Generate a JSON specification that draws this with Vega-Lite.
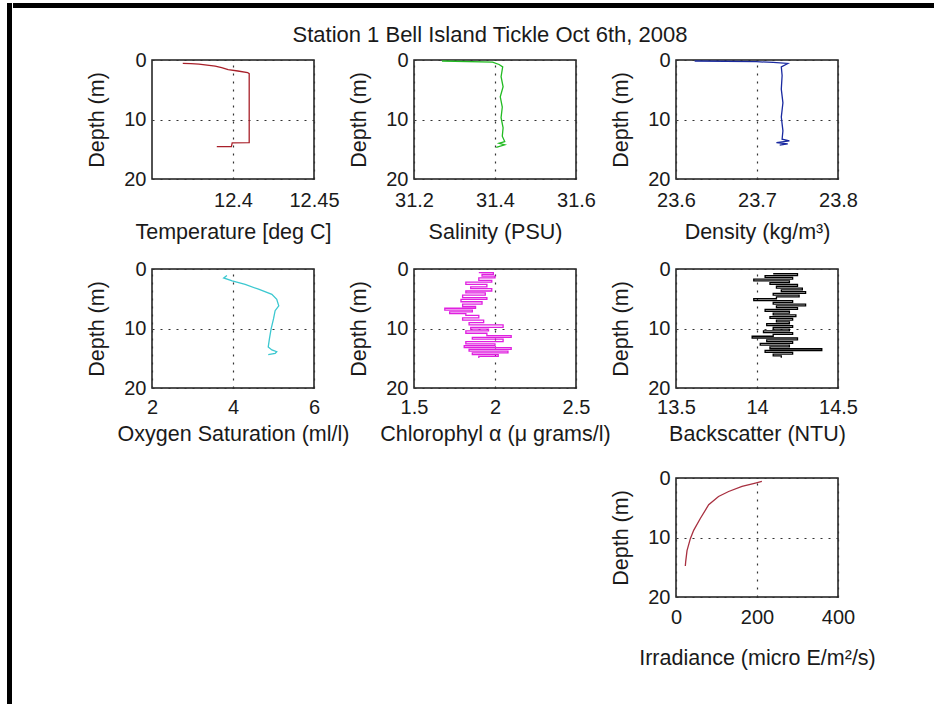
{
  "$schema": "https://vega.github.io/schema/vega-lite/v6.json",
  "padding": {"left": 6, "top": 2, "right": 0, "bottom": 0},
  "background": "white",
  "spacing": 0,
  "hconcat": [
    {"width": 5, "height": 702, "data": {"values": [{}]}, "mark": {"type": "point", "opacity": 0}, "view": {"fill": "#000", "stroke": null}},
    {
      "spacing": 14,
      "vconcat": [
        {"width": 923, "height": 5, "data": {"values": [{}]}, "mark": {"type": "point", "opacity": 0}, "view": {"fill": "#000", "stroke": null}},
        {
          "spacing": 0,
          "hconcat": [
            {"width": 73, "height": 1, "data": {"values": [{}]}, "mark": {"type": "point", "opacity": 0}, "view": {"stroke": null}},
            {
              "columns": 3,
              "bounds": "flush",
              "spacing": {"row": 90, "column": 100},
              "concat": [
                {
                  "width": 162, "height": 119,
                  "data": {"name": "temp"},
                  "mark": {"type": "line", "color": "#a8202a", "strokeWidth": 1.3},
                  "encoding": {
                    "x": {"field": "value", "type": "quantitative", "scale": {"domain": [12.35, 12.45], "nice": false, "zero": false}, "axis": {"values": [12.4, 12.45], "format": "~g", "title": "Temperature [deg C]", "labelPadding": 11, "titlePadding": 11}},
                    "y": {"field": "depth", "type": "quantitative", "scale": {"domain": [0, 20], "reverse": true, "nice": false, "zero": false}, "axis": {"values": [0, 10, 20], "title": "Depth (m)"}},
                    "order": {"field": "depth"}
                  }
                },
                {
                  "width": 162, "height": 119,
                  "title": {"text": "Station 1 Bell Island Tickle Oct 6th, 2008", "anchor": "middle", "frame": "group", "fontSize": 22, "fontWeight": "normal", "color": "#1a1a1a", "offset": 3, "dx": -5},
                  "data": {"name": "sal"},
                  "mark": {"type": "line", "color": "#22bb22", "strokeWidth": 1.3},
                  "encoding": {
                    "x": {"field": "value", "type": "quantitative", "scale": {"domain": [31.2, 31.6], "nice": false, "zero": false}, "axis": {"values": [31.2, 31.4, 31.6], "format": "~g", "title": "Salinity (PSU)", "labelPadding": 11, "titlePadding": 11}},
                    "y": {"field": "depth", "type": "quantitative", "scale": {"domain": [0, 20], "reverse": true, "nice": false, "zero": false}, "axis": {"values": [0, 10, 20], "title": "Depth (m)"}},
                    "order": {"field": "depth"}
                  }
                },
                {
                  "width": 162, "height": 119,
                  "data": {"name": "dens"},
                  "mark": {"type": "line", "color": "#1a2aa0", "strokeWidth": 1.3},
                  "encoding": {
                    "x": {"field": "value", "type": "quantitative", "scale": {"domain": [23.6, 23.8], "nice": false, "zero": false}, "axis": {"values": [23.6, 23.7, 23.8], "format": "~g", "title": "Density  (kg/m³)", "labelPadding": 11, "titlePadding": 11}},
                    "y": {"field": "depth", "type": "quantitative", "scale": {"domain": [0, 20], "reverse": true, "nice": false, "zero": false}, "axis": {"values": [0, 10, 20], "title": "Depth (m)"}},
                    "order": {"field": "depth"}
                  }
                },
                {
                  "width": 162, "height": 119,
                  "data": {"name": "oxy"},
                  "mark": {"type": "line", "color": "#3cc8d0", "strokeWidth": 1.3},
                  "encoding": {
                    "x": {"field": "value", "type": "quantitative", "scale": {"domain": [2, 6], "nice": false, "zero": false}, "axis": {"values": [2, 4, 6], "format": "~g", "title": "Oxygen Saturation (ml/l)", "labelPadding": 9, "titlePadding": 6}},
                    "y": {"field": "depth", "type": "quantitative", "scale": {"domain": [0, 20], "reverse": true, "nice": false, "zero": false}, "axis": {"values": [0, 10, 20], "title": "Depth (m)"}},
                    "order": {"field": "depth"}
                  }
                },
                {
                  "width": 162, "height": 119,
                  "data": {"name": "chl"},
                  "mark": {"type": "line", "color": "#e020e0", "strokeWidth": 1.3, "interpolate": "step-after"},
                  "encoding": {
                    "x": {"field": "value", "type": "quantitative", "scale": {"domain": [1.5, 2.5], "nice": false, "zero": false}, "axis": {"values": [1.5, 2, 2.5], "format": "~g", "title": "Chlorophyl α  (μ grams/l)", "labelPadding": 9, "titlePadding": 6}},
                    "y": {"field": "depth", "type": "quantitative", "scale": {"domain": [0, 20], "reverse": true, "nice": false, "zero": false}, "axis": {"values": [0, 10, 20], "title": "Depth (m)"}},
                    "order": {"field": "depth"}
                  }
                },
                {
                  "width": 162, "height": 119,
                  "data": {"name": "bs"},
                  "mark": {"type": "line", "color": "#000000", "strokeWidth": 1.3, "interpolate": "step-after"},
                  "encoding": {
                    "x": {"field": "value", "type": "quantitative", "scale": {"domain": [13.5, 14.5], "nice": false, "zero": false}, "axis": {"values": [13.5, 14, 14.5], "format": "~g", "title": "Backscatter (NTU)", "labelPadding": 9, "titlePadding": 6}},
                    "y": {"field": "depth", "type": "quantitative", "scale": {"domain": [0, 20], "reverse": true, "nice": false, "zero": false}, "axis": {"values": [0, 10, 20], "title": "Depth (m)"}},
                    "order": {"field": "depth"}
                  }
                },
                {"width": 162, "height": 119, "data": {"values": [{}]}, "mark": {"type": "point", "opacity": 0}, "view": {"stroke": null}},
                {"width": 162, "height": 119, "data": {"values": [{}]}, "mark": {"type": "point", "opacity": 0}, "view": {"stroke": null}},
                {
                  "width": 162, "height": 119,
                  "data": {"name": "irr"},
                  "mark": {"type": "line", "color": "#a83040", "strokeWidth": 1.3},
                  "encoding": {
                    "x": {"field": "value", "type": "quantitative", "scale": {"domain": [0, 400], "nice": false, "zero": false}, "axis": {"values": [0, 200, 400], "format": "d", "title": "Irradiance (micro E/m²/s)", "labelPadding": 10, "titlePadding": 20}},
                    "y": {"field": "depth", "type": "quantitative", "scale": {"domain": [0, 20], "reverse": true, "nice": false, "zero": false}, "axis": {"values": [0, 10, 20], "title": "Depth (m)"}},
                    "order": {"field": "depth"}
                  }
                }
              ]
            }
          ]
        }
      ]
    }
  ],
  "datasets": {
    "temp": [
      {"depth": 0.57, "value": 12.369}, {"depth": 0.62, "value": 12.374}, {"depth": 0.68, "value": 12.379},
      {"depth": 0.85, "value": 12.384}, {"depth": 1.03, "value": 12.389}, {"depth": 1.3, "value": 12.393},
      {"depth": 1.6, "value": 12.397}, {"depth": 1.85, "value": 12.403}, {"depth": 2.1, "value": 12.409},
      {"depth": 2.3, "value": 12.41}, {"depth": 5, "value": 12.41}, {"depth": 8, "value": 12.41},
      {"depth": 11, "value": 12.41}, {"depth": 13.9, "value": 12.41}, {"depth": 13.92, "value": 12.3995},
      {"depth": 14.55, "value": 12.399}, {"depth": 14.57, "value": 12.39}
    ],
    "sal": [
      {"depth": 0.17, "value": 31.269}, {"depth": 0.34, "value": 31.394}, {"depth": 0.75, "value": 31.41},
      {"depth": 1.15, "value": 31.419}, {"depth": 2.8, "value": 31.415}, {"depth": 4.5, "value": 31.42},
      {"depth": 6.2, "value": 31.413}, {"depth": 7.9, "value": 31.418}, {"depth": 9.7, "value": 31.415},
      {"depth": 11.4, "value": 31.42}, {"depth": 12.8, "value": 31.418}, {"depth": 13.7, "value": 31.424},
      {"depth": 14.0, "value": 31.41}, {"depth": 14.25, "value": 31.424}, {"depth": 14.7, "value": 31.403}
    ],
    "dens": [
      {"depth": 0.17, "value": 23.623}, {"depth": 0.29, "value": 23.699}, {"depth": 0.41, "value": 23.72},
      {"depth": 0.58, "value": 23.738}, {"depth": 1.16, "value": 23.73}, {"depth": 2.6, "value": 23.731},
      {"depth": 4.9, "value": 23.73}, {"depth": 7.2, "value": 23.732}, {"depth": 9.6, "value": 23.73},
      {"depth": 11.9, "value": 23.732}, {"depth": 13.3, "value": 23.731}, {"depth": 13.6, "value": 23.74},
      {"depth": 13.9, "value": 23.724}, {"depth": 14.1, "value": 23.738}, {"depth": 14.3, "value": 23.728}
    ],
    "oxy": [
      {"depth": 1.1, "value": 3.85}, {"depth": 1.5, "value": 3.77}, {"depth": 2.0, "value": 3.98},
      {"depth": 2.6, "value": 4.3}, {"depth": 3.4, "value": 4.63}, {"depth": 4.25, "value": 4.96},
      {"depth": 5.1, "value": 5.08}, {"depth": 6.2, "value": 5.13}, {"depth": 7.0, "value": 5.04},
      {"depth": 8.4, "value": 5.0}, {"depth": 10.1, "value": 4.94}, {"depth": 11.7, "value": 4.9},
      {"depth": 13.1, "value": 4.87}, {"depth": 13.6, "value": 4.96}, {"depth": 13.9, "value": 5.08},
      {"depth": 14.2, "value": 5.04}, {"depth": 14.4, "value": 4.87}
    ],
    "chl": [
      {"depth": 0.6, "value": 1.90}, {"depth": 0.9, "value": 1.99}, {"depth": 1.2, "value": 1.92},
      {"depth": 1.5, "value": 2.00}, {"depth": 1.9, "value": 1.90}, {"depth": 2.2, "value": 1.98},
      {"depth": 2.6, "value": 1.82}, {"depth": 3.0, "value": 1.95}, {"depth": 3.3, "value": 1.85},
      {"depth": 3.7, "value": 1.98}, {"depth": 4.0, "value": 1.82}, {"depth": 4.4, "value": 1.94},
      {"depth": 4.8, "value": 1.80}, {"depth": 5.1, "value": 1.95}, {"depth": 5.5, "value": 1.79},
      {"depth": 5.9, "value": 1.92}, {"depth": 6.3, "value": 1.80}, {"depth": 6.6, "value": 1.88},
      {"depth": 6.9, "value": 1.69}, {"depth": 7.2, "value": 1.86}, {"depth": 7.5, "value": 1.72},
      {"depth": 7.8, "value": 1.82}, {"depth": 8.2, "value": 1.90}, {"depth": 8.6, "value": 1.80},
      {"depth": 9.0, "value": 1.93}, {"depth": 9.4, "value": 1.84}, {"depth": 9.8, "value": 2.05},
      {"depth": 10.1, "value": 1.85}, {"depth": 10.4, "value": 1.96}, {"depth": 10.8, "value": 1.82},
      {"depth": 11.2, "value": 1.95}, {"depth": 11.5, "value": 2.10}, {"depth": 11.8, "value": 1.86},
      {"depth": 12.2, "value": 2.05}, {"depth": 12.6, "value": 1.82}, {"depth": 12.9, "value": 2.00},
      {"depth": 13.2, "value": 1.81}, {"depth": 13.5, "value": 2.10}, {"depth": 13.8, "value": 1.84},
      {"depth": 14.1, "value": 2.08}, {"depth": 14.4, "value": 1.86}, {"depth": 14.7, "value": 2.02},
      {"depth": 14.95, "value": 1.90}
    ],
    "bs": [
      {"depth": 0.8, "value": 14.10}, {"depth": 1.1, "value": 14.25}, {"depth": 1.4, "value": 14.05},
      {"depth": 1.7, "value": 14.22}, {"depth": 2.0, "value": 13.98}, {"depth": 2.3, "value": 14.20},
      {"depth": 2.6, "value": 14.08}, {"depth": 2.9, "value": 14.25}, {"depth": 3.2, "value": 14.12},
      {"depth": 3.5, "value": 14.28}, {"depth": 3.8, "value": 14.15}, {"depth": 4.1, "value": 14.30},
      {"depth": 4.4, "value": 14.10}, {"depth": 4.7, "value": 14.26}, {"depth": 5.0, "value": 14.12},
      {"depth": 5.3, "value": 13.98}, {"depth": 5.6, "value": 14.22}, {"depth": 5.9, "value": 14.10},
      {"depth": 6.2, "value": 14.30}, {"depth": 6.5, "value": 14.12}, {"depth": 6.8, "value": 14.25},
      {"depth": 7.1, "value": 14.05}, {"depth": 7.4, "value": 14.20}, {"depth": 7.7, "value": 14.10},
      {"depth": 8.0, "value": 14.24}, {"depth": 8.3, "value": 14.08}, {"depth": 8.6, "value": 14.22},
      {"depth": 8.9, "value": 14.12}, {"depth": 9.2, "value": 14.20}, {"depth": 9.5, "value": 14.06},
      {"depth": 9.8, "value": 14.22}, {"depth": 10.1, "value": 14.10}, {"depth": 10.4, "value": 14.20},
      {"depth": 10.7, "value": 14.04}, {"depth": 11.0, "value": 14.22}, {"depth": 11.3, "value": 14.10},
      {"depth": 11.6, "value": 13.97}, {"depth": 11.9, "value": 14.25}, {"depth": 12.2, "value": 14.06},
      {"depth": 12.5, "value": 14.22}, {"depth": 12.8, "value": 14.02}, {"depth": 13.1, "value": 14.20},
      {"depth": 13.4, "value": 14.08}, {"depth": 13.7, "value": 14.40}, {"depth": 14.0, "value": 14.05},
      {"depth": 14.3, "value": 14.22}, {"depth": 14.6, "value": 14.10}, {"depth": 14.9, "value": 14.15}
    ],
    "irr": [
      {"depth": 0.57, "value": 212}, {"depth": 0.85, "value": 196}, {"depth": 1.42, "value": 163},
      {"depth": 2.27, "value": 130}, {"depth": 3.1, "value": 105}, {"depth": 4.5, "value": 80.7},
      {"depth": 6.8, "value": 60}, {"depth": 8.8, "value": 43.6}, {"depth": 10.2, "value": 35.4},
      {"depth": 12.2, "value": 27.2}, {"depth": 14.0, "value": 24}, {"depth": 14.8, "value": 23}
    ]
  },
  "config": {
    "font": "Liberation Sans",
    "view": {"stroke": "#1a1a1a", "strokeWidth": 1.5},
    "axis": {
      "labelFontSize": 20, "titleFontSize": 21.5, "labelColor": "#1a1a1a", "titleColor": "#1a1a1a",
      "titleFontWeight": "normal", "domain": false, "ticks": false, "grid": true,
      "gridColor": "#333333", "gridDash": [2, 6], "gridWidth": 1.2, "gridOpacity": 1,
      "labelFlush": false, "labelOverlap": false, "labelFont": "Liberation Sans", "titleFont": "Liberation Sans"
    },
    "axisX": {"labelPadding": 11, "titlePadding": 11},
    "axisY": {"labelPadding": 6, "titlePadding": 15}
  }
}
